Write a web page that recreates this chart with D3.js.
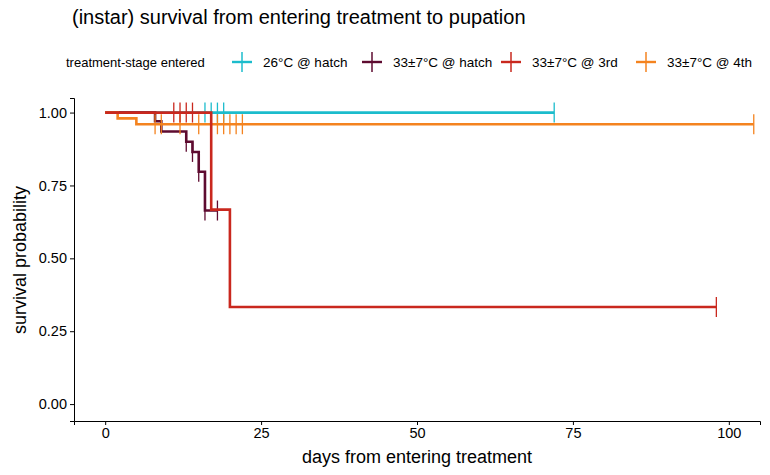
<!DOCTYPE html><html><head><script src="https://cdn.jsdelivr.net/npm/d3@7"></script>
<style>body{margin:0;background:#fff}text{font-family:"Liberation Sans",Arial,sans-serif}</style></head><body><svg id="c" width="770" height="475"></svg>
<script>
const seriesNames=["26°C @ hatch","33±7°C @ hatch","33±7°C @ 3rd","33±7°C @ 4th"];
const colors=["#1cbccc","#5e0b30","#c9281e","#f4831f"];
// steps: [time, survival]
const steps=[
 [[0,1],[72,1]],
 [[0,1],[8,0.97],[9,0.935],[13,0.90],[14,0.865],[15,0.797],[16,0.664],[18,0.664]],
 [[0,1],[17,0.667],[20,0.333],[98,0.333]],
 [[0,1],[2,0.98],[5,0.96],[104,0.96]]
];
const censors=[
 [16,17,18,19,72],
 [13,14,15,16,18],
 [11,12,13,14,98],
 [8,9,12,15,17,18,19,20,21,22,104]
];
const xTicks=[0,25,50,75,100], yTicks=[0,0.25,0.5,0.75,1];
const svg=d3.select("#c");
const x=d3.scaleLinear().domain([-5,105]).range([74,760]);
const y=d3.scaleLinear().domain([-0.058,1.05]).range([421,98]);
const stepAt=(s,t)=>{let v=1;for(const p of s){if(p[0]<=t)v=p[1];}return v;};
svg.append("g").attr("transform","translate(0,421)").call(d3.axisBottom(x).tickValues(xTicks).tickSize(4).tickPadding(3))
 .call(g=>{g.selectAll("text").attr("font-size",14.5).attr("fill","#000");g.selectAll("line,path").attr("stroke","#000");});
svg.append("g").attr("transform","translate(74,0)").call(d3.axisLeft(y).tickValues(yTicks).tickFormat(d3.format(".2f")).tickSize(4).tickPadding(3))
 .call(g=>{g.selectAll("text").attr("font-size",14.5).attr("fill","#000");g.selectAll("line,path").attr("stroke","#000");});
const line=d3.line().x(d=>x(d[0])).y(d=>y(d[1])).curve(d3.curveStepAfter);
[0,1,3,2].forEach(i=>{
 svg.append("path").attr("d",line(steps[i])).attr("fill","none").attr("stroke",colors[i]).attr("stroke-width",2.6);
 censors[i].forEach(t=>{const v=stepAt(steps[i],t);
  svg.append("line").attr("x1",x(t)).attr("x2",x(t)).attr("y1",y(v)-10).attr("y2",y(v)+10).attr("stroke",colors[i]).attr("stroke-width",1.3);});
});
svg.append("text").attr("x",72).attr("y",24).attr("font-size",20).text("(instar) survival from entering treatment to pupation");
svg.append("text").attr("x",417).attr("y",463).attr("text-anchor","middle").attr("font-size",18).text("days from entering treatment");
svg.append("text").attr("transform","translate(26,260) rotate(-90)").attr("text-anchor","middle").attr("font-size",18).text("survival probability");
const lg=svg.append("g");
lg.append("text").attr("x",66).attr("y",67).attr("font-size",13).text("treatment-stage entered");
const lx=[242,372,511,646];
seriesNames.forEach((n,i)=>{
 lg.append("line").attr("x1",lx[i]-10).attr("x2",lx[i]+10).attr("y1",62).attr("y2",62).attr("stroke",colors[i]).attr("stroke-width",2.4);
 lg.append("line").attr("x1",lx[i]).attr("x2",lx[i]).attr("y1",52).attr("y2",72).attr("stroke",colors[i]).attr("stroke-width",1.5);
 lg.append("text").attr("x",lx[i]+21).attr("y",67).attr("font-size",13.5).text(n);
});
</script></body></html>
